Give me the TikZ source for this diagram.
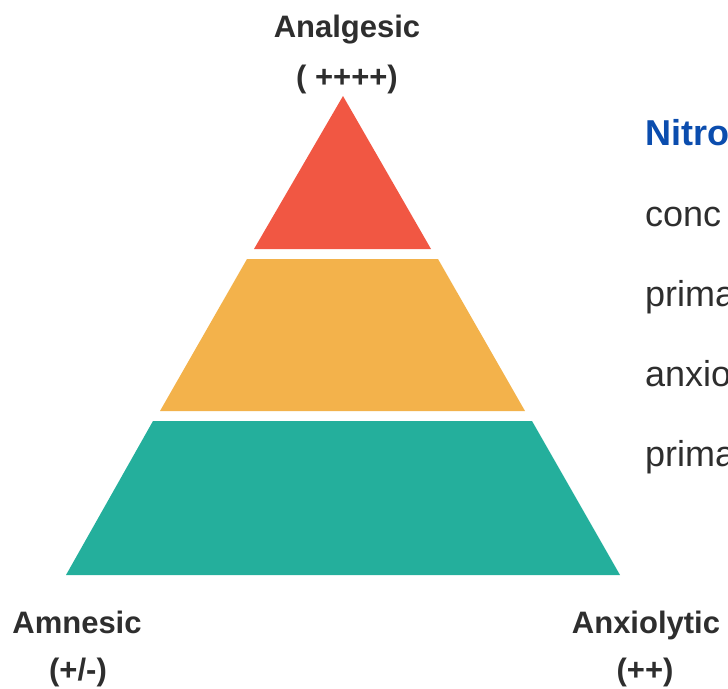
\documentclass[tikz,border=0pt]{standalone}
\usepackage{fontspec}
\setmainfont{Liberation Sans}
\definecolor{tred}{HTML}{F15743}
\definecolor{torange}{HTML}{F3B24B}
\definecolor{tteal}{HTML}{24AF9C}
\definecolor{txt}{HTML}{2E2E2E}
\definecolor{tblue}{HTML}{0B4DAE}
\begin{document}
\begin{tikzpicture}[x=1pt,y=-1pt,
  lbl/.style={font=\fontsize{31}{36}\selectfont\bfseries, text=txt, anchor=base, inner sep=0pt},
  side/.style={font=\fontsize{36}{42}\selectfont, text=txt, anchor=base west, inner sep=0pt}]
\useasboundingbox (0,0) rectangle (728,688);
\clip (0,0) rectangle (728,688);
% pyramid layers
\fill[tred] (343,96) -- (431,249) -- (254,249) -- cycle;
\fill[torange] (247,259) -- (438,259) -- (525,411) -- (160,411) -- cycle;
\fill[tteal] (153,421) -- (532,421) -- (620,575) -- (66,575) -- cycle;
% labels
\node[lbl] (ana) at (347,37) {Analgesic};
\node[lbl] (anav) at (347,87) {( ++++)};
\node[lbl] (amn) at (77,633) {Amnesic};
\node[lbl] (amnv) at (78,680) {(+/-)};
\node[lbl] (anx) at (646,633) {Anxiolytic};
\node[lbl] (anxv) at (645,680) {(++)};
% right side text
\node[side, font=\fontsize{36}{42}\selectfont\bfseries, text=tblue] (t0) at (645,145) {Nitro};
\node[side] (t1) at (645,226) {conc};
\node[side] (t2) at (645,306) {prima};
\node[side] (t3) at (645,386) {anxio};
\node[side] (t4) at (645,466) {prima};
\end{tikzpicture}
\end{document}
